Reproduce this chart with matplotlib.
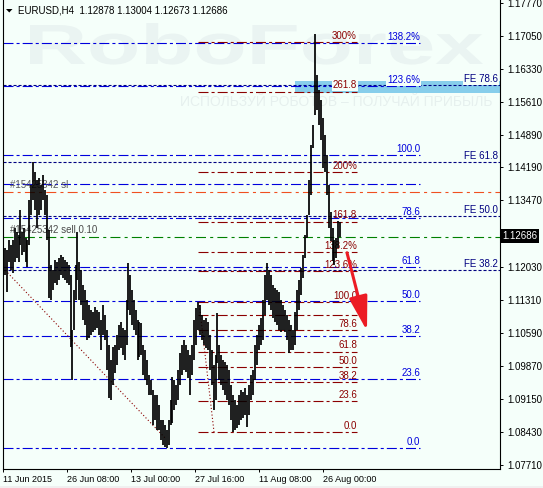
import matplotlib
matplotlib.use("Agg")
import matplotlib.pyplot as plt
from matplotlib.font_manager import FontProperties
from matplotlib.patches import PathPatch, Polygon, Rectangle
from matplotlib.textpath import TextPath
from matplotlib.transforms import Affine2D, blended_transform_factory

# ---- data (bar index ~ one H4 bar per pixel) ----
BAR_X = [
    0, 2, 4, 6, 8, 10, 12, 14, 16, 17,
    19, 21, 23, 24, 26, 28, 30, 32, 34, 36,
    38, 40, 42, 44, 46, 48, 50, 52, 54, 56,
    58, 60, 62, 64, 66, 68, 69, 71, 73, 74,
    76, 78, 80, 82, 84, 86, 88, 90, 92, 94,
    96, 98, 100, 102, 104, 106, 108, 110, 112, 114,
    116, 118, 120, 122, 124, 125, 127, 129, 131, 133,
    135, 136, 138, 140, 142, 144, 146, 148, 150, 152,
    154, 156, 158, 160, 162, 164, 166, 168, 169, 171,
    173, 175, 177, 179, 181, 183, 185, 187, 189, 191,
    193, 195, 197, 199, 201, 203, 205, 207, 209, 211,
    213, 214, 216, 218, 220, 222, 224, 226, 228, 230,
    232, 234, 236, 238, 240, 242, 244, 246, 248, 250,
    252, 254, 256, 258, 260, 262, 264, 266, 268, 270,
    272, 274, 276, 278, 280, 282, 284, 286, 288, 290,
    292, 294, 296, 298, 300, 302, 304, 306, 308, 310,
    312, 314, 316, 318, 320, 322, 324, 326, 328, 330,
    331, 333, 335, 337,
]
BAR_HIGH = [
    1.1250, 1.1243, 1.1239, 1.1261, 1.1250, 1.1261, 1.1287, 1.1278, 1.1272, 1.1326,
    1.1278, 1.1287, 1.1265, 1.1261, 1.1348, 1.1381, 1.1431, 1.1409, 1.1391, 1.1396,
    1.1381, 1.1402, 1.1370, 1.1359, 1.1283, 1.1206, 1.1196, 1.1217, 1.1213, 1.1222,
    1.1228, 1.1224, 1.1217, 1.1213, 1.1206, 1.1185, 1.1065, 1.1152, 1.1206, 1.1278,
    1.1213, 1.1196, 1.1163, 1.1152, 1.1130, 1.1119, 1.1108, 1.1104, 1.1115, 1.1108,
    1.1104, 1.1087, 1.1119, 1.1098, 1.1065, 1.1032, 1.1000, 1.1028, 1.1032, 1.1054,
    1.1076, 1.1082, 1.1069, 1.1065, 1.1130, 1.1211, 1.1185, 1.1152, 1.1130, 1.1108,
    1.1087, 1.1082, 1.1080, 1.1032, 1.1021, 1.1000, 1.0967, 1.0956, 1.0934, 1.0923,
    1.0923, 1.0902, 1.0869, 1.0869, 1.0858, 1.0847, 1.0869, 1.0913, 1.0963, 1.0956,
    1.0945, 1.0978, 1.1015, 1.1032, 1.1043, 1.1032, 1.1021, 1.1010, 1.1032, 1.1087,
    1.1113, 1.1126, 1.1119, 1.1098, 1.1087, 1.1091, 1.1082, 1.1054, 1.1021, 1.0989,
    1.1010, 1.1102, 1.1032, 1.1010, 1.1000, 1.0995, 1.0989, 1.0978, 1.0945, 1.0923,
    1.0913, 1.0902, 1.0923, 1.0934, 1.0930, 1.0939, 1.0923, 1.0945, 1.0967, 1.0978,
    1.1032, 1.1054, 1.1076, 1.1091, 1.1130, 1.1185, 1.1211, 1.1196, 1.1185, 1.1163,
    1.1156, 1.1152, 1.1148, 1.1130, 1.1119, 1.1108, 1.1098, 1.1087, 1.1076, 1.1065,
    1.1104, 1.1152, 1.1174, 1.1200, 1.1228, 1.1272, 1.1315, 1.1391, 1.1468, 1.1511,
    1.1709, 1.1620, 1.1587, 1.1566, 1.1526, 1.1489, 1.1446, 1.1381, 1.1322, 1.1287,
    1.1261, 1.1265, 1.1302, 1.13004,
]
BAR_LOW = [
    1.1200, 1.1185, 1.1148, 1.1213, 1.1196, 1.1189, 1.1213, 1.1222, 1.1213, 1.1250,
    1.1228, 1.1235, 1.1213, 1.1202, 1.1250, 1.1315, 1.1348, 1.1326, 1.1287, 1.1315,
    1.1326, 1.1348, 1.1315, 1.1261, 1.1135, 1.1130, 1.1152, 1.1167, 1.1163, 1.1174,
    1.1185, 1.1178, 1.1174, 1.1167, 1.1163, 1.1028, 1.0956, 1.1065, 1.1130, 1.1174,
    1.1130, 1.1119, 1.1087, 1.1076, 1.1043, 1.1048, 1.1054, 1.1061, 1.1065, 1.1069,
    1.1054, 1.1021, 1.1054, 1.1043, 1.0978, 1.0917, 1.0913, 1.0945, 1.0971, 1.0989,
    1.1021, 1.1026, 1.1010, 1.1000, 1.1032, 1.1108, 1.1098, 1.1076, 1.1065, 1.1054,
    1.1000, 1.1006, 1.1010, 1.0967, 1.0956, 1.0945, 1.0923, 1.0923, 1.0858, 1.0869,
    1.0847, 1.0847, 1.0825, 1.0815, 1.0810, 1.0808, 1.0815, 1.0858, 1.0862, 1.0891,
    1.0902, 1.0913, 1.0945, 1.0967, 1.0978, 1.0973, 1.0960, 1.0923, 1.0967, 1.1000,
    1.1032, 1.1065, 1.1054, 1.1043, 1.1032, 1.1026, 1.1021, 1.0978, 1.0945, 1.0891,
    1.0913, 1.0993, 1.0956, 1.0945, 1.0934, 1.0923, 1.0913, 1.0902, 1.0869, 1.0843,
    1.0847, 1.0852, 1.0858, 1.0869, 1.0874, 1.0880, 1.0854, 1.0880, 1.0913, 1.0923,
    1.0956, 1.0989, 1.1021, 1.1032, 1.1043, 1.1098, 1.1130, 1.1119, 1.1108, 1.1091,
    1.1082, 1.1076, 1.1065, 1.1061, 1.1065, 1.1061, 1.1043, 1.1015, 1.1021, 1.1021,
    1.1032, 1.1065, 1.1108, 1.1141, 1.1178, 1.1222, 1.1265, 1.1315, 1.1359, 1.1461,
    1.1533, 1.1544, 1.1511, 1.1479, 1.1418, 1.1409, 1.1359, 1.1287, 1.1259, 1.1215,
    1.1206, 1.1222, 1.1243, 1.12673,
]
assert len(BAR_X) == len(BAR_HIGH) == len(BAR_LOW)

LAST_PRICE = 1.12686
HEADER = "EURUSD,H4  1.12878 1.13004 1.12673 1.12686"

X_TICKS = [0, 64, 128, 192, 256, 320]
X_LABELS = ["11 Jun 2015", "26 Jun 08:00", "13 Jul 00:00",
            "27 Jul 16:00", "11 Aug 08:00", "26 Aug 00:00"]
Y_TICKS = [1.07710, 1.08430, 1.09150, 1.09870, 1.10590, 1.11310, 1.12030,
           1.12750, 1.13470, 1.14190, 1.14890, 1.15610, 1.16330, 1.17050,
           1.17770]

# big fibo (blue): low / high anchors, drawn from the left edge to bar 417
BLUE_FIB = (1.0808, 1.1446)
BLUE_LEVELS = [0.0, 0.236, 0.382, 0.5, 0.618, 0.786, 0.9, 1.0, 1.236, 1.382]
BLUE_LABELS = ["0.0", "23.6", "38.2", "50.0", "61.8", "78.6", "",
               "100.0", "123.6%", "138.2%"]

# small fibo (dark red): anchors and bar span
RED_FIB = (1.0843, 1.1126)
RED_SPAN = (195, 354)
RED_LEVELS = [0.0, 0.236, 0.382, 0.5, 0.618, 0.786, 0.9, 1.0,
              1.236, 1.382, 1.618, 2.0, 2.618, 3.0]
RED_LABELS = ["0.0", "23.6", "38.2", "50.0", "61.8", "78.6", "", "100.0",
              "123.6%", "138.2%", "161.8", "200%", "261.8", "300%"]

# fibo expansion
FE_BASE = 1.0815
FE_RANGE = 0.0997
FE_LEVELS = [0.382, 0.5, 0.618, 0.786]
FE_LABELS = ["FE 38.2", "FE 50.0", "FE 61.8", "FE 78.6"]

ORDER_SL = 1.1366
ORDER_OPEN = 1.1268

ZONE = (292, 497, 1.1581, 1.1607)          # x0, x1, low, high
ARROW = ((344, 1.1233), (364, 1.1063))     # from, to
TREND_BLUE = ((0, 1.1200), (162, 1.0830))
TREND_RED = ((196, 1.1126), (211, 1.0843))

# ---- styles ----
BG = "#F5FFFA"
BLUE = "#0000DD"
NAVY = "#000080"
MAROON = "#8B0000"
GREEN = "#008000"
ORANGE = "#F05020"
ARROW_RED = "#EC1C24"
DASHDOT = (7.2, 2.2, 2.2, 2.2)
ORDER_DASH = (7.2, 3.0, 2.2, 3.0)
DOTS = (2.2, 1.4)
FINE_DOTS = (0.8, 1.6)

plt.rcParams["font.family"] = ["Liberation Sans", "DejaVu Sans"]
plt.rcParams["lines.scale_dashes"] = False

W, H = 543, 488
fig = plt.figure(figsize=(W / 100, H / 100), dpi=100, facecolor=BG)
ax = fig.add_axes([2.5 / W, 19 / H, 497.5 / W, 469 / H])
ax.set_facecolor("none")
ax.set_xlim(-0.5, 497)
ax.set_ylim(1.07623, 1.17833)

# watermark behind the chart
wm = TextPath((0, 0), "RoboForex", size=100,
              prop=FontProperties(family="Liberation Sans", weight="bold"))
ext = wm.get_extents()
tr = (Affine2D().translate(-ext.x0, 0)
      .scale(453 / ext.width, 41 / ext.y1).translate(30, H - 64))
fig.patches.append(PathPatch(wm, transform=tr, facecolor="#EAF4F2",
                             edgecolor="none", zorder=-2))
fig.text(492 / W, 1 - 106 / H, "ИСПОЛЬЗУЙ РОБОТОВ – ПОЛУЧАЙ ПРИБЫЛЬ",
         ha="right", va="baseline", fontsize=10, color="#E6F0EE", zorder=-2)
fig.patches.append(Rectangle((0, 0), 1, 2 / H, transform=fig.transFigure,
                             facecolor="#F0F0F0", edgecolor="none", zorder=-1))

# zone rectangle
ax.add_patch(Rectangle((ZONE[0], ZONE[2]), ZONE[1] - ZONE[0], ZONE[3] - ZONE[2],
                       facecolor="#87CEEB", edgecolor="none", zorder=1))


def label(x, y, text, color, ha="right"):
    box = None
    if ZONE[2] <= y <= ZONE[3]:
        box = dict(boxstyle="square,pad=0.1", facecolor=BG, edgecolor="none")
    ax.annotate(text, (x, y), xytext=(0, 0.8), textcoords="offset points",
                ha=ha, va="bottom", color=color, fontsize=7, zorder=3,
                bbox=box)


for lvl, lab in zip(BLUE_LEVELS, BLUE_LABELS):
    price = BLUE_FIB[0] + lvl * (BLUE_FIB[1] - BLUE_FIB[0])
    ax.plot([-0.5, 417], [price, price], color=BLUE, lw=0.8,
            dashes=DASHDOT, zorder=2)
    if lab:
        label(417, price, lab, BLUE)

for lvl, lab in zip(FE_LEVELS, FE_LABELS):
    price = FE_BASE + lvl * FE_RANGE
    ax.plot([-0.5, 497], [price, price], color=NAVY, lw=0.8,
            dashes=DOTS, zorder=2)
    label(495, price, lab, NAVY)

for lvl, lab in zip(RED_LEVELS, RED_LABELS):
    price = RED_FIB[0] + lvl * (RED_FIB[1] - RED_FIB[0])
    ax.plot(RED_SPAN, [price, price], color=MAROON, lw=0.8,
            dashes=DASHDOT, zorder=2)
    if lab:
        label(RED_SPAN[1], price, lab, MAROON)

for (p0, p1) in (TREND_BLUE, TREND_RED):
    ax.plot([p0[0], p1[0]], [p0[1], p1[1]], color=MAROON, lw=0.8,
            dashes=FINE_DOTS, zorder=2)

# order lines
ax.plot([-0.5, 497], [ORDER_SL, ORDER_SL], color=ORANGE, lw=0.8,
        dashes=ORDER_DASH, zorder=2)
ax.plot([-0.5, 497], [ORDER_OPEN, ORDER_OPEN], color=GREEN, lw=0.8,
        dashes=ORDER_DASH, zorder=2)
ax.annotate("#15425342 sl", (7, ORDER_SL), xytext=(0, 1.2),
            textcoords="offset points", ha="left", va="bottom",
            fontsize=7, color="#5A5A5A", zorder=3)
ax.annotate("#15425342 sell 0.10", (7, ORDER_OPEN), xytext=(0, 1.2),
            textcoords="offset points", ha="left", va="bottom",
            fontsize=7, color="#4A4A4A", zorder=3)

# price bars
ax.vlines(BAR_X, BAR_LOW, BAR_HIGH, color="black", lw=1.25, zorder=5)

# arrow
ax.annotate("", xy=ARROW[1], xytext=ARROW[0],
            arrowprops=dict(arrowstyle="-|>,head_length=1.5,head_width=0.4",
                            color=ARROW_RED, lw=2.2, mutation_scale=14,
                            shrinkA=0, shrinkB=0), zorder=6)

# axes
for side in ("left", "right", "bottom"):
    ax.spines[side].set_linewidth(0.8)
    ax.spines[side].set_color("black")
ax.spines["top"].set_visible(False)
ax.yaxis.tick_right()
ax.set_yticks(Y_TICKS)
# the tick under the current price box stays unlabeled (it is hidden there)
ax.set_yticklabels(["" if abs(v - LAST_PRICE) < 0.002 else "%.5f" % v
                    for v in Y_TICKS])
ax.set_xticks(X_TICKS)
ax.set_xticklabels(X_LABELS, ha="left")
ax.tick_params(axis="y", length=2.5, width=0.7, pad=2.5, labelsize=7,
               direction="out")
ax.tick_params(axis="x", length=2.5, width=0.7, pad=2.0, labelsize=6.5,
               direction="out")

# current price box
ax.text(1.004, LAST_PRICE, "%.5f" % LAST_PRICE,
        transform=blended_transform_factory(ax.transAxes, ax.transData),
        ha="left", va="center", fontsize=7, color="white", zorder=7,
        bbox=dict(boxstyle="square,pad=0.2", facecolor="black",
                  edgecolor="none"), clip_on=False)

# header
fig.patches.append(Polygon([(6 / W, 1 - 9 / H), (12.5 / W, 1 - 9 / H),
                            (9.25 / W, 1 - 12.5 / H)],
                           closed=True, transform=fig.transFigure,
                           facecolor="black", edgecolor="none"))
fig.text(18 / W, 1 - 10.5 / H, HEADER, fontsize=7, va="center")

fig.savefig("out.png", dpi=100, facecolor=BG)
